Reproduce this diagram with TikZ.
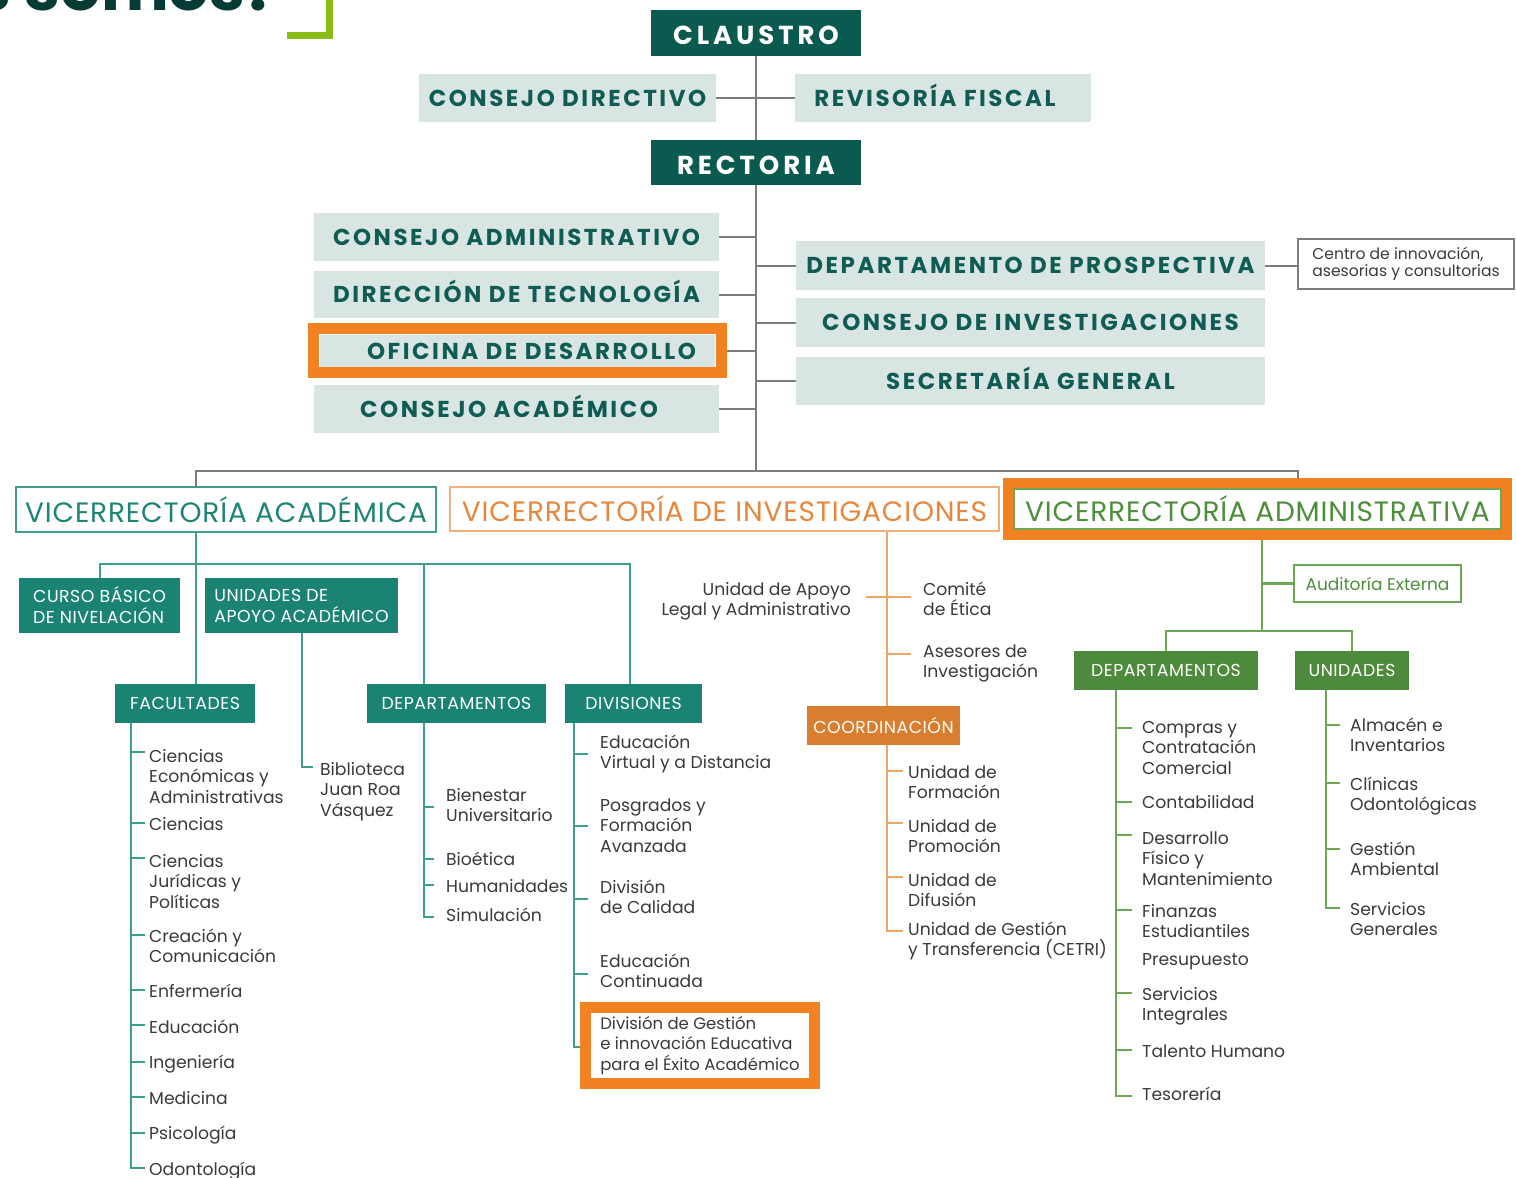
\documentclass[tikz,border=0pt]{standalone}
\usepackage{fontspec}
\setmainfont{Poppins}
\newfontfamily\hdA{Poppins}[LetterSpace=15]
\newfontfamily\hdB{Poppins}[LetterSpace=11]
\newfontfamily\hdV{Poppins}[LetterSpace=3]
\usetikzlibrary{calc}
\definecolor{dkteal}{HTML}{0B5A50}
\definecolor{ltfill}{HTML}{D9E5E3}
\definecolor{tiertxt}{HTML}{0F5C54}
\definecolor{graylin}{HTML}{7D7D7D}
\definecolor{tealfill}{HTML}{1A8373}
\definecolor{tealtxt}{HTML}{1E8475}
\definecolor{teallin}{HTML}{3E9E90}
\definecolor{hiorange}{HTML}{F28121}
\definecolor{resor}{HTML}{E8873C}
\definecolor{resborder}{HTML}{F3B07A}
\definecolor{reslin}{HTML}{EFA565}
\definecolor{coordfill}{HTML}{D97D2E}
\definecolor{grnfill}{HTML}{4E8A3B}
\definecolor{grntxt}{HTML}{4D8E3B}
\definecolor{grnlin}{HTML}{6CA657}
\definecolor{bodytxt}{HTML}{3A3A3A}
\definecolor{titletxt}{HTML}{063B35}
\definecolor{lime}{HTML}{86BC14}
\newcommand\myBody{\fontsize{17.2}{20.5}\selectfont}
\newcommand\Li[5][]{\node[itm,#1] (#2) at (#3,#4-18) {\rule{0pt}{18pt}#5};}
\tikzset{
  darkbox/.style={fill=dkteal, text=white, inner sep=0, text height=23, text depth=0, font=\hdA\bfseries\fontsize{26}{30}\selectfont},
  litebox/.style={fill=ltfill, text=tiertxt, inner sep=0, text height=16, text depth=0, font=\hdB\bfseries\fontsize{23}{27}\selectfont},
  gl/.style={draw=graylin, line width=2},
  tl/.style={draw=teallin, line width=2},
  rl/.style={draw=reslin, line width=2.5},
  grl/.style={draw=grnlin, line width=2.5},
  vbox/.style={fill=white, line width=2, inner sep=0, font=\hdV\fontsize{28}{32}\selectfont},
  tbox/.style={fill=tealfill, text=white, inner sep=0, align=left, font=\hdV\fontsize{17.3}{21}\selectfont},
  sbox/.style={inner sep=0, text=white, font=\hdV\fontsize{17.3}{20}\selectfont, minimum height=39},
  itm/.style={anchor=north west, inner sep=0, align=left, text=bodytxt, font=\myBody},
  titlest/.style={anchor=base east, inner sep=0, text=titletxt, font=\bfseries\fontsize{64}{70}\selectfont}
}
\begin{document}
\begin{tikzpicture}[x=1pt,y=-1pt]
\useasboundingbox (0,0) rectangle (1516,1178);
\fill[white] (0,0) rectangle (1516,1178);
\clip (0,0) rectangle (1516,1178);

% heading fragment
\node[titlest] (title) at (280,10) {¿Quiénes somos?};
\draw[lime, line width=7, line join=miter] (329.5,-6) -- (329.5,35.5) -- (287,35.5);

% top tiers
\node[darkbox, minimum width=210, minimum height=46] (claustro) at (756,32.5) {CLAUSTRO};
\node[litebox, minimum width=297, minimum height=48] (cdir) at (567.5,98) {CONSEJO DIRECTIVO};
\node[litebox, minimum width=296, minimum height=48] (rfis) at (943,98) {REVISORÍA FISCAL\hspace*{16pt}};
\node[darkbox, minimum width=210, minimum height=45] (rect) at (756,162.5) {RECTORIA};
\node[litebox, minimum width=405, minimum height=48] (cadm) at (516.5,237) {CONSEJO ADMINISTRATIVO};
\node[litebox, minimum width=405, minimum height=47] (dtec) at (516.5,294.5) {DIRECCIÓN DE TECNOLOGÍA};
\node[draw=hiorange, line width=11, minimum width=407.5, minimum height=44, inner sep=0] (ofiframe) at (517.25,350.5) {};
\node[litebox, minimum width=395, minimum height=32] (ofi) at (517.5,351) {\hspace*{28pt}OFICINA DE DESARROLLO};
\node[litebox, minimum width=405, minimum height=48] (cacad) at (516.5,409) {CONSEJO ACADÉMICO\hspace*{15pt}};
\node[litebox, minimum width=469, minimum height=49] (dpros) at (1030.5,265.5) {DEPARTAMENTO DE PROSPECTIVA};
\node[litebox, minimum width=469, minimum height=49] (cinv) at (1030.5,322.5) {CONSEJO DE INVESTIGACIONES};
\node[litebox, minimum width=469, minimum height=48] (sgen) at (1030.5,381) {SECRETARÍA GENERAL};
\node[draw=graylin, line width=2, fill=white, minimum width=216, minimum height=50, inner sep=0, align=left, text=bodytxt, font=\fontsize{15.6}{17}\selectfont] (centro) at (1406,264) {Centro de innovación,\\asesorias y consultorias};

\coordinate (tend) at (756,471);
\draw[gl] (claustro.south) -- (rect.north);
\draw[gl] (rect.south) -- (tend);
\draw[gl] (cdir.east) -- (rfis.west);
\foreach \n in {cadm,dtec,ofiframe,cacad} \draw[gl] (\n.east) -- (\n.east -| tend);
\foreach \n in {dpros,cinv,sgen} \draw[gl] (\n.west -| tend) -- (\n.west);
\draw[gl] (dpros.east) -- (dpros.east -| centro.west);

% vicerrectorias
\node[vbox, draw=teallin, text=tealtxt, minimum width=420, minimum height=45] (va) at (226,509.5) {VICERRECTORÍA ACADÉMICA};
\node[vbox, draw=resborder, text=resor, minimum width=549, minimum height=44] (vi) at (724.5,509) {VICERRECTORÍA DE INVESTIGACIONES};
\node[draw=hiorange, line width=10, minimum width=499, minimum height=52, inner sep=0] (vraframe) at (1257.5,509) {};
\node[vbox, draw=grnlin, text=grntxt, minimum width=487, minimum height=40] (vra) at (1257.5,509) {VICERRECTORÍA ADMINISTRATIVA};

\coordinate (hl) at (196,471);
\coordinate (hr) at (1298,471);
\draw[gl] (hl |- va.north) -- (hl) -- (hr) -- (hr |- vraframe.north);

% academica
\node[tbox, minimum width=161, minimum height=55] (curso) at (99.5,605.5) {CURSO BÁSICO\\DE NIVELACIÓN};
\node[tbox, minimum width=193, minimum height=55] (uapo) at (301.5,605.5) {UNIDADES DE\\APOYO ACADÉMICO};
\node[sbox, fill=tealfill, minimum width=140] (fac) at (185,703.5) {FACULTADES};
\node[sbox, fill=tealfill, minimum width=179] (adep) at (456.5,703.5) {DEPARTAMENTOS};
\node[sbox, fill=tealfill, minimum width=137] (divs) at (633.5,703.5) {DIVISIONES};

\coordinate (ah2) at (630,564);
\coordinate (ahd) at (424,564);
\draw[tl] (curso.north) |- (ah2) -- (ah2 |- divs.north);
\draw[tl] (va.south -| hl) -- (fac.north -| hl);
\draw[tl] (ahd) -- (ahd |- adep.north);

% facultades list
\draw[tl] (fac.south -| 131,0) -- (131,1168) -- (145,1168);
\foreach \y in {752,823,858,935,990,1025,1062,1097,1133} \draw[tl] (131,\y) -- (145,\y);
\Li{f1}{149}{762}{Ciencias\\Económicas y\\Administrativas}
\Li{f2}{149}{830}{Ciencias}
\Li{f3}{149}{867}{Ciencias\\Jurídicas y\\Políticas}
\Li{f4}{149}{942}{Creación y\\Comunicación}
\Li{f5}{149}{997}{Enfermería}
\Li{f6}{149}{1033}{Educación}
\Li{f7}{149}{1068}{Ingeniería}
\Li{f8}{149}{1104}{Medicina}
\Li{f9}{149}{1139}{Psicología}
\Li{f10}{149}{1175}{Odontología}

% biblioteca
\coordinate (bibc) at (313,767);
\draw[tl] (uapo.south) |- (bibc);
\Li{bib}{320}{775}{Biblioteca\\Juan Roa\\Vásquez}

% departamentos
\draw[tl] (adep.south -| 424,0) -- (424,917) -- (434,917);
\foreach \y in {807,859,885} \draw[tl] (424,\y) -- (434,\y);
\Li{d1}{446}{801}{Bienestar\\Universitario}
\Li{d2}{446}{865}{Bioética}
\Li{d3}{446}{892}{Humanidades}
\Li{d4}{446}{921}{Simulación}

% divisiones
\draw[tl] (divs.south -| 574,0) -- (574,1047) -- (582,1047);
\foreach \y in {754,826,899,974} \draw[tl] (574,\y) -- (588,\y);
\Li{v1}{600}{748}{Educación\\Virtual y a Distancia}
\Li{v2}{600}{811}{Posgrados y\\Formación\\Avanzada}
\Li{v3}{600}{893}{División\\de Calidad}
\Li{v4}{600}{967}{Educación\\Continuada}
\node[draw=hiorange, line width=11, fill=white, minimum width=229, minimum height=76, inner sep=0, align=left, text=bodytxt, font=\fontsize{16.5}{20.8}\selectfont] (dge) at (700,1045.5) {División de Gestión\\e innovación Educativa\\para el Éxito Académico};

% investigaciones
\node[sbox, fill=coordfill, minimum width=153] (coord) at (883.5,725.5) {COORDINACIÓN};
\coordinate (rx) at (887,0);
\draw[rl] (vi.south -| rx) -- (coord.north -| rx);
\draw[rl] (coord.south -| rx) -- (887,931) -- (903,931);
\draw[rl] (866,597) -- (911,597);
\draw[rl] (887,654) -- (911,654);
\foreach \y in {771,823,877} \draw[rl] (887,\y) -- (903,\y);
\Li[anchor=north east, align=right]{rla}{851}{595}{Unidad de Apoyo\\Legal y Administrativo}
\Li{rce}{923}{595}{Comité\\de Ética}
\Li{rai}{923}{657}{Asesores de\\Investigación}
\Li{r1}{908}{778}{Unidad de\\Formación}
\Li{r2}{908}{832}{Unidad de\\Promoción}
\Li{r3}{908}{886}{Unidad de\\Difusión}
\Li{r4}{908}{935}{Unidad de Gestión\\y Transferencia (CETRI)}

% administrativa
\node[draw=grnlin, line width=2, fill=white, text=grntxt, minimum width=167, minimum height=37, inner sep=0, font=\fontsize{17}{20}\selectfont] (aud) at (1377.5,583.5) {Auditoría Externa};
\node[sbox, fill=grnfill, minimum width=184] (adep2) at (1166,670.5) {DEPARTAMENTOS};
\node[sbox, fill=grnfill, minimum width=114] (unid) at (1352,670.5) {UNIDADES};
\coordinate (gx) at (1262,631);
\draw[grl] (vraframe.south -| gx) -- (gx);
\draw[grl] (aud.west -| gx) -- (aud.west);
\draw[grl] (adep2.north) |- (gx) -| (unid.north);

\draw[grl] (adep2.south -| 1116,0) -- (1116,1096) -- (1132,1096);
\foreach \y in {728,802,835,910,993,1050} \draw[grl] (1116,\y) -- (1132,\y);
\Li{a1}{1142}{733}{Compras y\\Contratación\\Comercial}
\Li{a2}{1142}{808}{Contabilidad}
\Li{a3}{1142}{844}{Desarrollo\\Físico y\\Mantenimiento}
\Li{a4}{1142}{917}{Finanzas\\Estudiantiles}
\Li{a5}{1142}{965}{Presupuesto}
\Li{a6}{1142}{1000}{Servicios\\Integrales}
\Li{a7}{1142}{1057}{Talento Humano}
\Li{a8}{1142}{1100}{Tesorería}

\draw[grl] (unid.south -| 1326,0) -- (1326,908) -- (1340,908);
\foreach \y in {725,783,849} \draw[grl] (1326,\y) -- (1340,\y);
\Li{u1}{1350}{731}{Almacén e\\Inventarios}
\Li{u2}{1350}{790}{Clínicas\\Odontológicas}
\Li{u3}{1350}{855}{Gestión\\Ambiental}
\Li{u4}{1350}{915}{Servicios\\Generales}
\end{tikzpicture}
\end{document}
